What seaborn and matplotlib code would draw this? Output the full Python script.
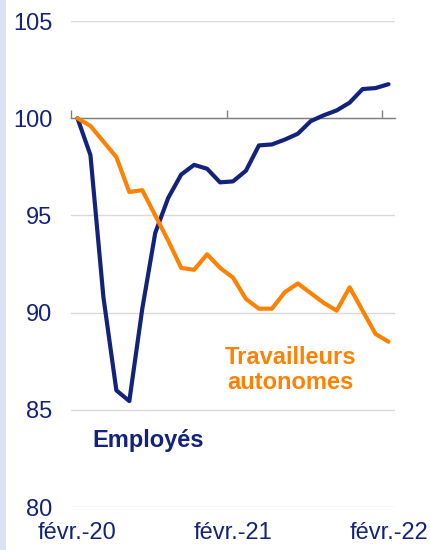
import matplotlib
matplotlib.use("Agg")
import matplotlib.pyplot as plt
import seaborn as sns
import pandas as pd
import numpy as np

months = ["févr.-20", "mars-20", "avr.-20", "mai-20", "juin-20", "juil.-20", "août-20",
          "sept.-20", "oct.-20", "nov.-20", "déc.-20", "janv.-21", "févr.-21", "mars-21",
          "avr.-21", "mai-21", "juin-21", "juil.-21", "août-21", "sept.-21", "oct.-21",
          "nov.-21", "déc.-21", "janv.-22", "févr.-22"]
employes = [100.0, 98.1, 90.8, 86.0, 85.45, 90.2, 94.1, 95.9, 97.1, 97.6, 97.4, 96.7,
            96.75, 97.3, 98.6, 98.65, 98.9, 99.2, 99.85, 100.15, 100.4, 100.8, 101.5,
            101.55, 101.75]
autonomes = [100.0, 99.6, 98.8, 98.0, 96.2, 96.3, 95.0, 93.7, 92.3, 92.2, 93.0, 92.3,
             91.8, 90.7, 90.2, 90.2, 91.05, 91.5, 91.0, 90.5, 90.1, 91.3, 90.1, 88.9, 88.5]
series_names = ["Employés", "Travailleurs autonomes"]
tick_labels = ["févr.-20", "févr.-21", "févr.-22"]
y_ticks = [80, 85, 90, 95, 100, 105]

NAVY = "#13237b"
ORANGE = "#fd8204"

df = pd.DataFrame({
    "idx": list(range(len(months))) * 2,
    "value": employes + autonomes,
    "serie": [series_names[0]] * len(months) + [series_names[1]] * len(months),
})

sns.set_style("white")
plt.rcParams["font.family"] = ["Liberation Sans", "DejaVu Sans"]

fig = plt.figure(figsize=(4.3, 5.5), dpi=100)
# light blue strip on the left
fig.patches.append(plt.Rectangle((0, 0), 6 / 430, 1, transform=fig.transFigure,
                                 facecolor="#dae3f3", edgecolor="none", zorder=0))
ax = fig.add_axes([71 / 430, 1 - 507 / 550, (395 - 71) / 430, (507 - 21) / 550])

sns.lineplot(data=df, x="idx", y="value", hue="serie",
             palette={series_names[0]: NAVY, series_names[1]: ORANGE},
             linewidth=3.0, legend=False, ax=ax, zorder=3)

ax.set_xlim(-0.5, len(months) - 0.5)
ax.set_ylim(80, 105)
ax.set_yticks(y_ticks)
ax.set_yticklabels([str(v) for v in y_ticks])
ax.yaxis.grid(True, color="#d9d9d9", linewidth=1.0)
ax.set_axisbelow(True)
for s in ["left", "right", "top"]:
    ax.spines[s].set_visible(False)
ax.spines["bottom"].set_position(("data", 100))
ax.spines["bottom"].set_color("#808080")
ax.spines["bottom"].set_linewidth(1.0)
ax.spines["bottom"].set_zorder(2.5)
ax.set_xticks([-0.5, 11.5, 23.5])
ax.set_xticklabels([])
ax.tick_params(axis="x", bottom=True, direction="in", length=6, width=1, color="#808080")
ax.tick_params(axis="y", length=0, pad=13.5, labelsize=17, labelcolor=NAVY)
ax.set_xlabel("")
ax.set_ylabel("")

sec = ax.secondary_xaxis(0)
sec.set_xticks([months.index(t) for t in tick_labels])
sec.set_xticklabels(tick_labels)
sec.tick_params(length=0, pad=11, labelsize=17, labelcolor=NAVY)
sec.spines["bottom"].set_visible(False)

ax.text(0.238, 0.136, "Employés", transform=ax.transAxes, ha="center", va="center",
        fontsize=17, fontweight="bold", color=NAVY)
ax.text(0.676, 0.282, "Travailleurs\nautonomes", transform=ax.transAxes, ha="center",
        va="center", fontsize=17, fontweight="bold", color=ORANGE, linespacing=1.1)

fig.savefig("out.png", dpi=100)
